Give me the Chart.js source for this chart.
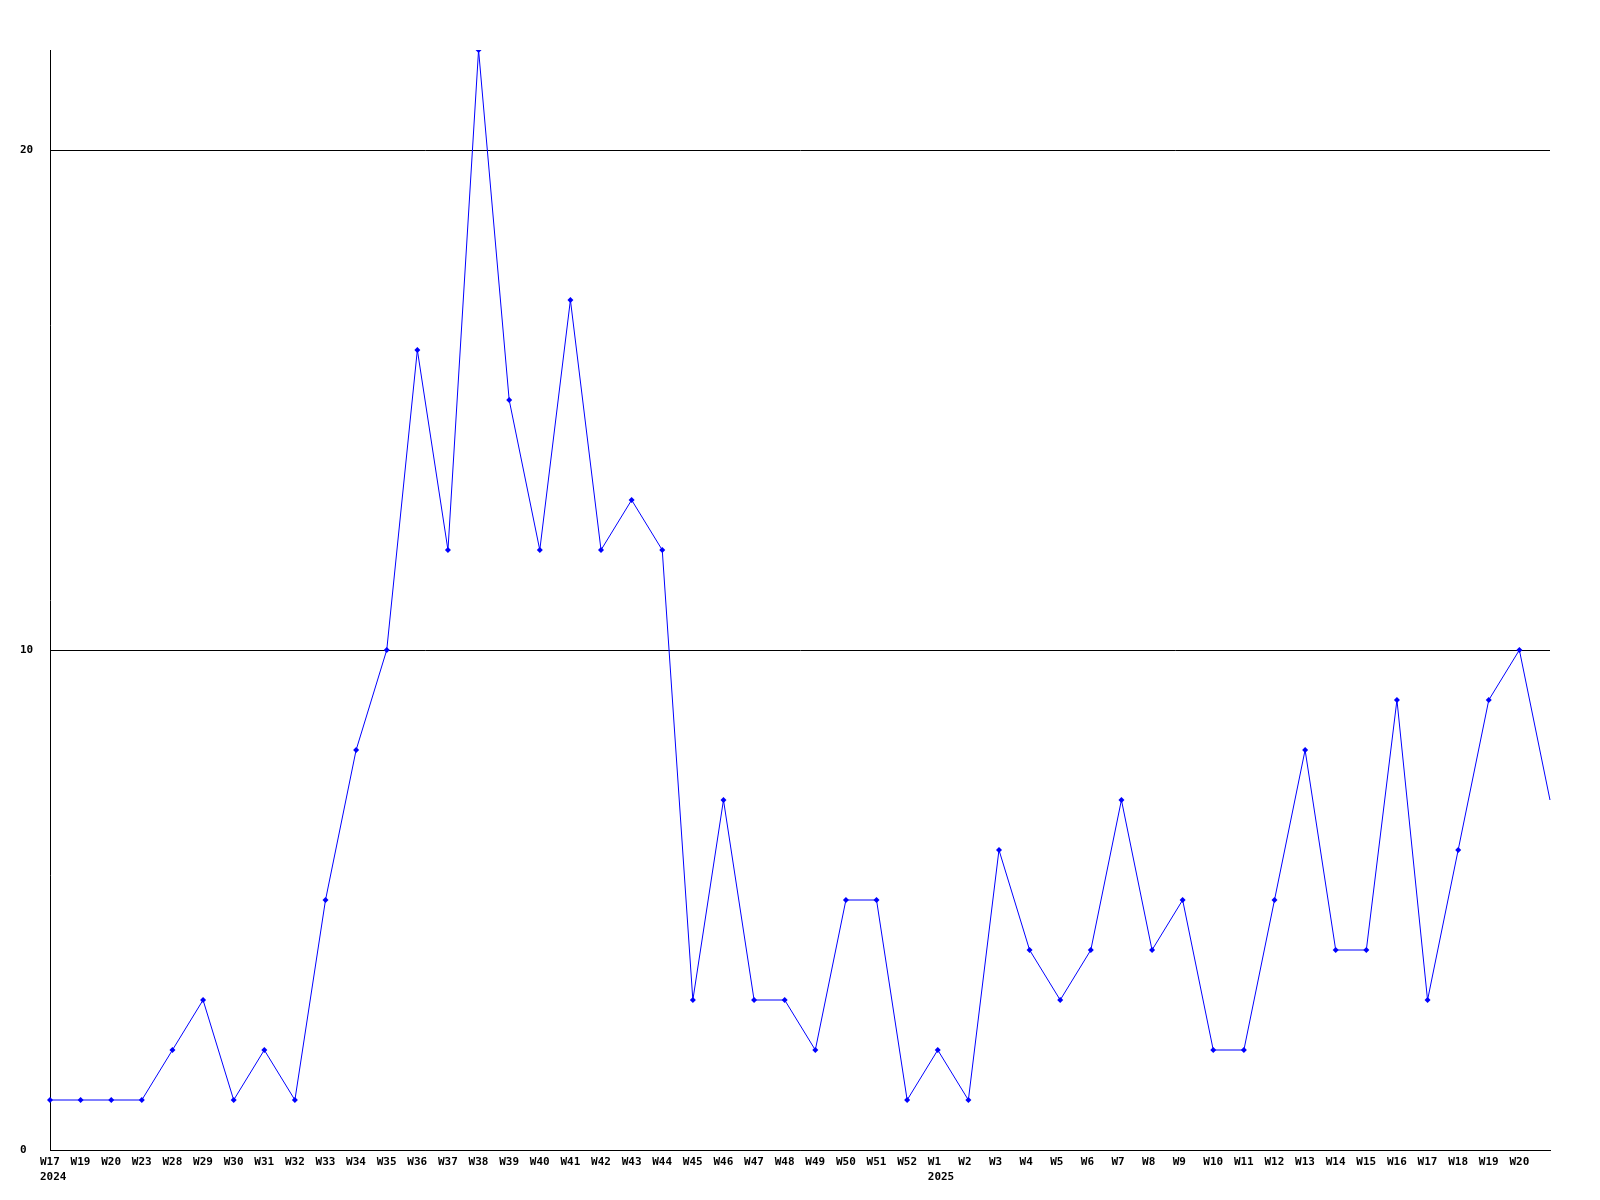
<!DOCTYPE html>
<html lang="en">
<head>
    <meta charset="UTF-8">
    <title>Weekly count</title>
    <script src="https://cdn.jsdelivr.net/npm/chart.js"></script>
    <style>
        body { margin: 0; background: #fff; }
        #wrap { width: 1600px; height: 1200px; }
    </style>
</head>
<body>
    <div id="wrap"><canvas id="weeklyChart" width="1600" height="1200"></canvas></div>

    <script>
        // Week labels (second line marks the year start)
        const weeks = [
            ['W17', '2024'], 'W19', 'W20', 'W23', 'W28', 'W29', 'W30', 'W31', 'W32', 'W33',
            'W34', 'W35', 'W36', 'W37', 'W38', 'W39', 'W40', 'W41', 'W42', 'W43',
            'W44', 'W45', 'W46', 'W47', 'W48', 'W49', 'W50', 'W51', 'W52', ['W1', '2025'],
            'W2', 'W3', 'W4', 'W5', 'W6', 'W7', 'W8', 'W9', 'W10', 'W11',
            'W12', 'W13', 'W14', 'W15', 'W16', 'W17', 'W18', 'W19', 'W20', 'W21'
        ];
        const counts = [
            1, 1, 1, 1, 2, 3, 1, 2, 1, 5,
            8, 10, 16, 12, 22, 15, 12, 17, 12, 13,
            12, 3, 7, 3, 3, 2, 5, 5, 1, 2,
            1, 6, 4, 3, 4, 7, 4, 5, 2, 2,
            5, 8, 4, 4, 9, 3, 6, 9, 10, 7
        ];
        const yTicks = [0, 10, 20];
        const yMax = 22;

        const lastIdx = counts.length - 1;
        const tickFont = { family: '"DejaVu Sans Mono", monospace', size: 11, weight: 'bold', lineHeight: 1.35 };

        new Chart(document.getElementById('weeklyChart'), {
            type: 'line',
            data: {
                labels: weeks,
                datasets: [{
                    data: counts,
                    borderColor: '#0000ff',
                    backgroundColor: '#0000ff',
                    borderWidth: 1,
                    tension: 0,
                    pointStyle: 'rectRot',
                    // the last week has no marker in the original
                    pointRadius: ctx => ctx.dataIndex === lastIdx ? 0 : 3,
                    pointBorderWidth: 0,
                    fill: false
                }]
            },
            options: {
                responsive: false,
                animation: false,
                layout: { padding: { left: 20, top: 50, right: 50, bottom: 0 } },
                plugins: { legend: { display: false }, tooltip: { enabled: false } },
                scales: {
                    x: {
                        offset: false,
                        grid: { display: false, drawTicks: false },
                        border: { display: true, color: '#000', width: 1 },
                        ticks: {
                            color: '#000',
                            font: tickFont,
                            autoSkip: false,
                            maxRotation: 0,
                            align: 'start',
                            labelOffset: -10,
                            padding: 5,
                            callback: function (v, i) { return i === lastIdx ? '' : this.getLabelForValue(v); }
                        },
                        afterFit: s => { s.height = 50; }
                    },
                    y: {
                        min: 0,
                        max: yMax,
                        grid: { color: '#000', lineWidth: 1, drawTicks: false },
                        border: { display: true, color: '#000', width: 1 },
                        afterBuildTicks: s => { s.ticks = yTicks.map(v => ({ value: v })); },
                        ticks: {
                            color: '#000',
                            font: tickFont,
                            crossAlign: 'far',
                            padding: 0
                        },
                        afterFit: s => { s.width = 30; }
                    }
                }
            }
        });
    </script>
</body>
</html>
